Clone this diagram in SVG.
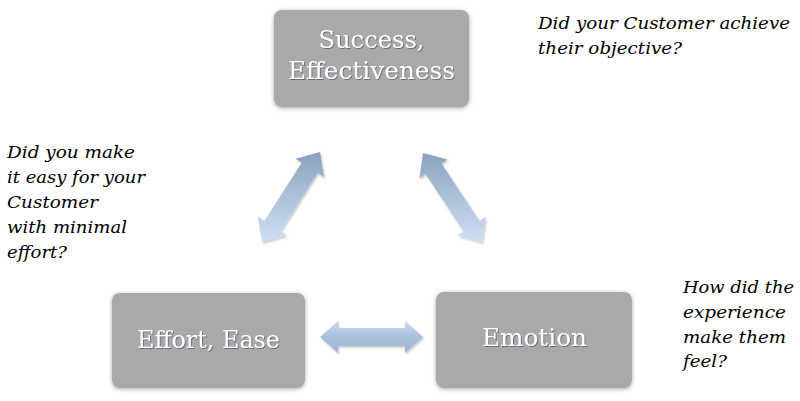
<svg xmlns="http://www.w3.org/2000/svg" width="800" height="401" viewBox="0 0 800 401">
  <defs>
    <linearGradient id="arrowGrad" x1="0" y1="0" x2="0" y2="1">
      <stop offset="0" stop-color="#8aa2bf"/>
      <stop offset="1" stop-color="#cfe0f4"/>
    </linearGradient>
    <linearGradient id="arrowGradH" x1="0" y1="0" x2="0" y2="1">
      <stop offset="0" stop-color="#c8daf0"/>
      <stop offset="0.5" stop-color="#a9bfdb"/>
      <stop offset="1" stop-color="#9fb6d3"/>
    </linearGradient>
    <filter id="boxShadow" x="-10%" y="-10%" width="120%" height="125%">
      <feDropShadow dx="0" dy="1" stdDeviation="2" flood-color="#000" flood-opacity="0.35"/>
    </filter>
    <filter id="arrowShadow" x="-20%" y="-20%" width="140%" height="140%">
      <feDropShadow dx="1" dy="1.5" stdDeviation="1.2" flood-color="#000" flood-opacity="0.25"/>
    </filter>
    <filter id="textShadow" x="-5%" y="-20%" width="110%" height="140%">
      <feDropShadow dx="1" dy="1" stdDeviation="0.6" flood-color="#3b4a66" flood-opacity="0.6"/>
    </filter>
  </defs>
  <style>
    .box { fill: #a9a9a9; filter: url(#boxShadow); }
    .label { font-family: "DejaVu Serif", "Liberation Serif", serif; font-size: 25px; fill: #ffffff; text-anchor: middle; filter: url(#textShadow); }
    .note { font-family: "DejaVu Serif", "Liberation Serif", serif; font-size: 17.5px; font-style: italic; fill: #000000; }
    .arrow { fill: url(#arrowGrad); filter: url(#arrowShadow); }
    .arrowH { fill: url(#arrowGradH); filter: url(#arrowShadow); }
  </style>

  <g id="connectors">
    <polygon class="arrow" points="262,242 258.00,216.82 264.30,220.88 301.72,162.82 295.42,158.76 320,152 324.00,177.18 317.70,173.12 280.28,231.18 286.58,235.24"/>
    <polygon class="arrow" points="423,153 447.67,159.45 441.42,163.59 479.42,220.91 485.67,216.77 482,242 457.33,235.55 463.58,231.41 425.58,174.09 419.33,178.23"/>
    <polygon class="arrowH" points="320,337 338,321 338,328 405,328 405,321 423,337 405,353 405,346 338,346 338,353"/>
  </g>

  <g id="node-success">
    <rect class="box" x="274" y="10" width="195" height="97" rx="8" ry="8"/>
    <text class="label" x="371.5" y="48" textLength="106" lengthAdjust="spacingAndGlyphs">Success,</text>
    <text class="label" x="371.5" y="79" textLength="167" lengthAdjust="spacingAndGlyphs">Effectiveness</text>
  </g>

  <g id="node-effort">
    <rect class="box" x="112" y="293" width="193" height="95" rx="8" ry="8"/>
    <text class="label" x="208.5" y="348" textLength="143" lengthAdjust="spacingAndGlyphs">Effort, Ease</text>
  </g>

  <g id="node-emotion">
    <rect class="box" x="436" y="292" width="196" height="96" rx="8" ry="8"/>
    <text class="label" x="534.5" y="346" textLength="105" lengthAdjust="spacingAndGlyphs">Emotion</text>
  </g>

  <g id="note-success">
    <text class="note" x="538" y="29" textLength="252" lengthAdjust="spacingAndGlyphs">Did your Customer achieve</text>
    <text class="note" x="538" y="54" textLength="144" lengthAdjust="spacingAndGlyphs">their objective?</text>
  </g>

  <g id="note-effort">
    <text class="note" x="7" y="158" textLength="128" lengthAdjust="spacingAndGlyphs">Did you make</text>
    <text class="note" x="7" y="183" textLength="138" lengthAdjust="spacingAndGlyphs">it easy for your</text>
    <text class="note" x="7" y="208" textLength="91" lengthAdjust="spacingAndGlyphs">Customer</text>
    <text class="note" x="7" y="233" textLength="120" lengthAdjust="spacingAndGlyphs">with minimal</text>
    <text class="note" x="7" y="258" textLength="60" lengthAdjust="spacingAndGlyphs">effort?</text>
  </g>

  <g id="note-emotion">
    <text class="note" x="683" y="293" textLength="111" lengthAdjust="spacingAndGlyphs">How did the</text>
    <text class="note" x="683" y="318" textLength="103" lengthAdjust="spacingAndGlyphs">experience</text>
    <text class="note" x="683" y="343" textLength="103" lengthAdjust="spacingAndGlyphs">make them</text>
    <text class="note" x="683" y="367" textLength="44" lengthAdjust="spacingAndGlyphs">feel?</text>
  </g>
</svg>
